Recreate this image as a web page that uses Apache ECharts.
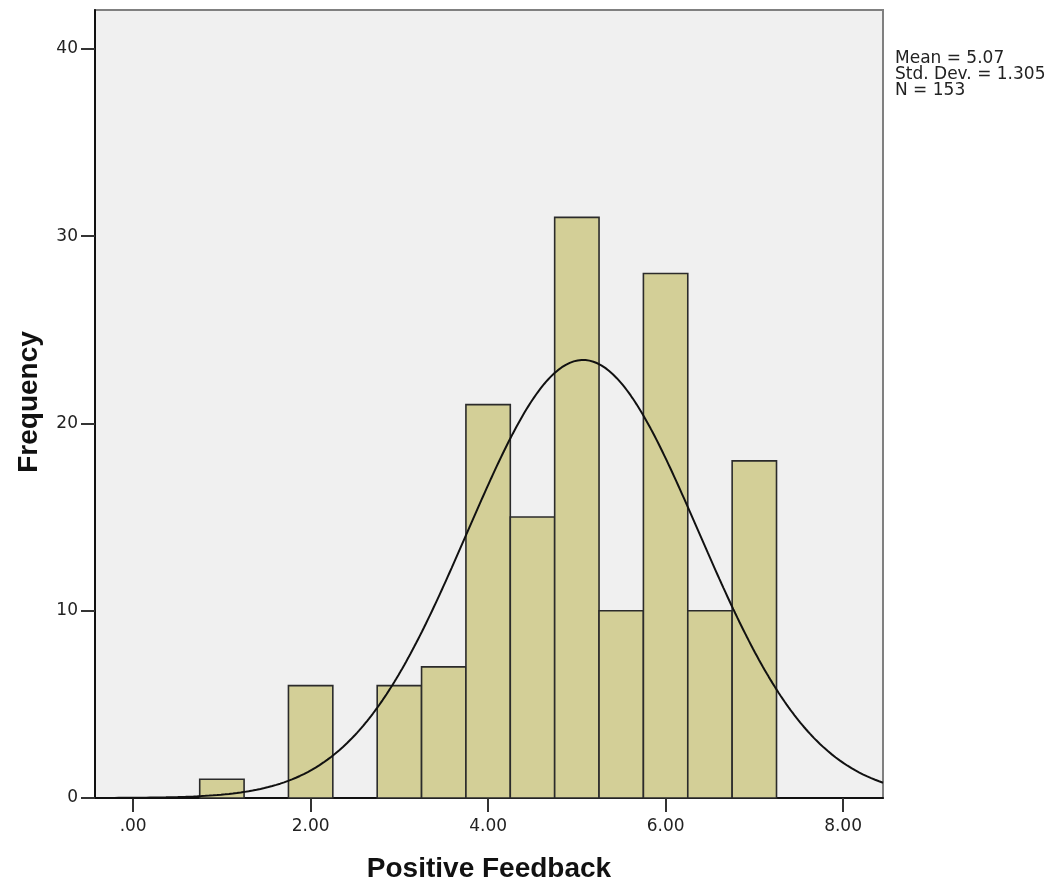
<!DOCTYPE html>
<html>
<head>
<meta charset="utf-8">
<script src="https://cdn.jsdelivr.net/npm/echarts@6/dist/echarts.min.js"></script>
<style>
  html, body { margin: 0; padding: 0; background: #ffffff; }
  #chart { width: 1060px; height: 883px; }
</style>
</head>
<body>
<div id="chart"></div>
<script>
// Histogram of Positive Feedback scores (bin width 0.5) with a fitted normal curve.
const binStarts = [0.75, 1.75, 2.75, 3.25, 3.75, 4.25, 4.75, 5.25, 5.75, 6.25, 6.75];
const binWidth = 0.5;
const frequencies = [1, 6, 6, 7, 21, 15, 31, 10, 28, 10, 18];
const xTickValues = [0, 2, 4, 6, 8];
const xTickLabels = ['.00', '2.00', '4.00', '6.00', '8.00'];
const yTickValues = [0, 10, 20, 30, 40];
const statMean = 5.07;
const statStdDev = 1.305;
const statN = 153;
const statLines = ['Mean = 5.07', 'Std. Dev. = 1.305', 'N = 153'];

const xMin = -0.43, xMax = 8.45;
const yMin = 0, yMax = 42.07;

const barData = binStarts.map((s, i) => [s, s + binWidth, frequencies[i]]);

// Normal density scaled to counts per bin, from the reported mean, SD and N.
const curveData = [];
for (let i = 0; i <= 400; i++) {
  const x = xMin + (xMax - xMin) * i / 400;
  const z = (x - statMean) / statStdDev;
  const y = statN * binWidth * Math.exp(-0.5 * z * z) / (statStdDev * Math.sqrt(2 * Math.PI));
  curveData.push([x, y]);
}

const titleFont = 'Liberation Sans, Arial, sans-serif';
const labelFont = 'DejaVu Sans, sans-serif';
const chart = echarts.init(document.getElementById('chart'));

chart.setOption({
  animation: false,
  grid: { left: 95, right: 177, top: 10, bottom: 85, show: true,
          backgroundColor: '#f0f0f0', borderColor: '#808080', borderWidth: 2 },
  xAxis: {
    type: 'value', min: xMin, max: xMax,
    splitLine: { show: false },
    axisLine: { show: true, onZero: false, lineStyle: { color: '#111', width: 2 } },
    axisTick: { show: true, length: 14, customValues: xTickValues,
                lineStyle: { color: '#333', width: 2 } },
    axisLabel: { customValues: xTickValues, margin: 20, color: '#222',
                 fontFamily: labelFont, fontSize: 17,
                 formatter: v => xTickLabels[xTickValues.indexOf(v)] }
  },
  yAxis: {
    type: 'value', min: yMin, max: yMax,
    splitLine: { show: false },
    axisLine: { show: true, onZero: false, lineStyle: { color: '#111', width: 2 } },
    axisTick: { show: true, length: 14, customValues: yTickValues,
                lineStyle: { color: '#333', width: 2 } },
    axisLabel: { customValues: yTickValues, margin: 17, color: '#222',
                 fontFamily: labelFont, fontSize: 17 }
  },
  graphic: [
    { type: 'text', left: 895, top: 50,
      style: { text: statLines.join('\n'), font: '17px ' + labelFont, fill: '#222', lineHeight: 16 } },
    { type: 'text', x: 489, y: 869,
      style: { text: 'Positive Feedback', font: 'bold 28px ' + titleFont, fill: '#111',
               align: 'center', verticalAlign: 'middle' } },
    { type: 'text', x: 29, y: 402, rotation: Math.PI / 2,
      style: { text: 'Frequency', font: 'bold 28px ' + titleFont, fill: '#111',
               align: 'center', verticalAlign: 'middle' } }
  ],
  series: [
    {
      type: 'custom',
      data: barData,
      encode: { x: [0, 1], y: 2 },
      renderItem: (params, api) => {
        const p0 = api.coord([api.value(0), api.value(2)]);
        const p1 = api.coord([api.value(1), 0]);
        return {
          type: 'rect',
          shape: { x: p0[0], y: p0[1], width: p1[0] - p0[0], height: p1[1] - p0[1] },
          style: { fill: '#d3cf97', stroke: '#2b2b2b', lineWidth: 1.6 }
        };
      },
      z: 2
    },
    {
      type: 'line',
      data: curveData,
      showSymbol: false,
      smooth: false,
      lineStyle: { color: '#111', width: 2 },
      clip: true,
      z: 3
    }
  ]
});
</script>
</body>
</html>
